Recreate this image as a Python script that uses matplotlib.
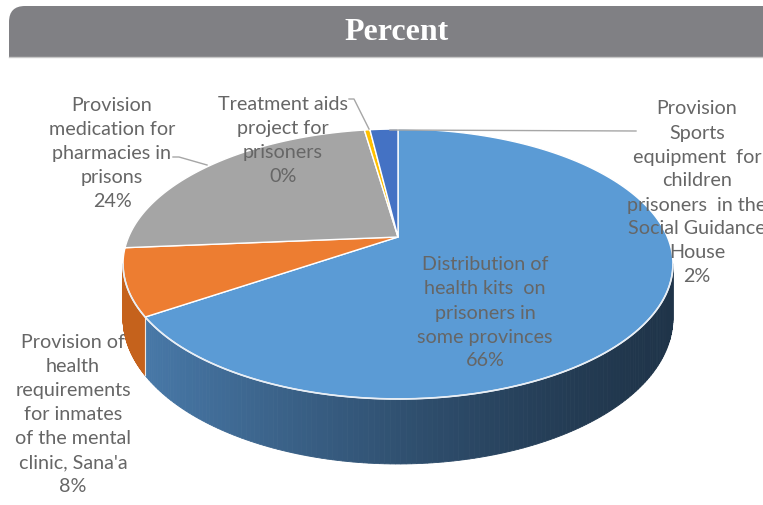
import numpy as np
import matplotlib
matplotlib.use("Agg")
import matplotlib.pyplot as plt
from matplotlib.patches import Polygon, FancyBboxPatch, Rectangle
from matplotlib.colors import to_rgb

# ---- data ----
categories = [
    "Distribution of\nhealth kits  on\nprisoners in\nsome provinces",
    "Provision of\nhealth\nrequirements\nfor inmates\nof the mental\nclinic, Sana'a",
    "Provision\nmedication for\npharmacies in\nprisons",
    "Treatment aids\nproject for\nprisoners",
    "Provision\nSports\nequipment  for\nchildren\nprisoners  in the\nSocial Guidance\nHouse",
]
values = [66, 8, 24, 0.4, 2]
pct_labels = ["66%", "8%", "24%", "0%", "2%"]
top_colors = ["#5b9bd5", "#ed7d31", "#a5a5a5", "#ffc000", "#4472c4"]
title = "Percent"

# ---- figure ----
W, H = 763, 506
fig = plt.figure(figsize=(W / 100, H / 100), dpi=100)
ax = fig.add_axes([0, 0, 1, 1])
ax.set_xlim(0, W)
ax.set_ylim(H, 0)
ax.axis("off")

# title banner
banner = FancyBboxPatch((9, 7), 800, 80, boxstyle="round,pad=0,rounding_size=16",
                        facecolor="#808084", edgecolor="none", zorder=1)
ax.add_patch(banner)
ax.add_patch(Rectangle((0, 58), W, 40, facecolor="white", edgecolor="none", zorder=2))
ax.plot([9, W], [58, 58], color="#c8c8c8", lw=1, zorder=3)
ax.text(397, 32, title, color="white", fontsize=23, fontweight="bold",
        family="Liberation Serif", ha="center", va="center", zorder=4)

# perspective pie geometry (pixel space)
apex_x, apex_y = 398, 238
cphi, sphi = 0.882, 0.481
dist = 4.41
f = 1188
depth_world = 52

def proj(t_deg):
    t = np.radians(t_deg)
    X, Z = np.sin(t), np.cos(t)
    den = dist + Z * cphi
    return apex_x + f * X / den, apex_y - f * sphi * Z / den, dist / den

def pt(t_deg, down=False):
    x, y, s = proj(t_deg)
    if down:
        y += depth_world * s
    return x, y

total = sum(values)
bounds = np.concatenate([[0], np.cumsum(values) / total * 360])

def shade(col, k):
    r, g, bl = to_rgb(col)
    return (r * k, g * k, bl * k)

# silhouette angles
t_sil = np.degrees(np.arccos(-cphi / dist))
t_lo, t_hi = t_sil, 360 - t_sil

side_cols = {0: ("#4a7cad", "#1f3449"), 1: ("#c5621c", "#c5621c"),
             2: ("#8a8a8a", "#8a8a8a")}
for i in range(len(values)):
    t1, t2 = max(bounds[i], t_lo), min(bounds[i + 1], t_hi)
    if t2 <= t1:
        continue
    c_l, c_r = side_cols.get(i, (shade(top_colors[i], 0.7), shade(top_colors[i], 0.7)))
    cl, cr = np.array(to_rgb(c_l)), np.array(to_rgb(c_r))
    ts = np.linspace(t1, t2, 150)
    for j in range(len(ts) - 1):
        xa, ya = pt(ts[j]); xb, yb = pt(ts[j + 1])
        xa2, ya2 = pt(ts[j], True); xb2, yb2 = pt(ts[j + 1], True)
        xm = 0.5 * (xa + xb)
        k = np.clip((672 - xm) / (672 - 122), 0, 1) ** 1.3
        col = cr + (cl - cr) * k
        poly = [(xa, ya), (xb, yb), (xb2, yb2), (xa2, ya2)]
        ax.add_patch(Polygon(poly, closed=True, facecolor=col, edgecolor=col,
                             lw=0.6, zorder=5))
    for tb in (t1, t2):
        if t_lo < tb < t_hi:
            x0, y0 = pt(tb); x1, y1 = pt(tb, True)
            ax.plot([x0, x1], [y0, y1], color="white", lw=0.8, alpha=0.6, zorder=6)

# top faces
for i in range(len(values)):
    ts = np.linspace(bounds[i], bounds[i + 1], 200)
    pts = [(apex_x, apex_y)] + [pt(t) for t in ts]
    ax.add_patch(Polygon(pts, closed=True, facecolor=top_colors[i], edgecolor="white",
                         lw=1.0, joinstyle="round", zorder=7))

# rim highlight on front
ts = np.linspace(t_lo, t_hi, 300)
rim = np.array([pt(t) for t in ts])
ax.plot(rim[:, 0], rim[:, 1], color="#e8eef5", lw=1.2, zorder=8)

# labels
txt_color = "#666666"
fs = 14.2
label_pos = [(485, 313), (73, 415), (112, 153), (283, 140), (697, 193)]
for i, (lx, ly) in enumerate(label_pos):
    ax.text(lx, ly, categories[i] + "\n" + pct_labels[i], ha="center", va="center",
            fontsize=fs, color=txt_color, family="Lato", linespacing=1.5,
            zorder=10, multialignment="center")

# leader lines
lc = "#a6a6a6"
ax.plot([173, 179, 207], [158, 158, 166], color=lc, lw=1, zorder=9)
ax.plot([349, 354, 369], [100, 100, 130], color=lc, lw=1, zorder=9)
ax.plot([390, 636], [131, 132], color=lc, lw=1, zorder=9)

fig.savefig("out.png", dpi=100)
